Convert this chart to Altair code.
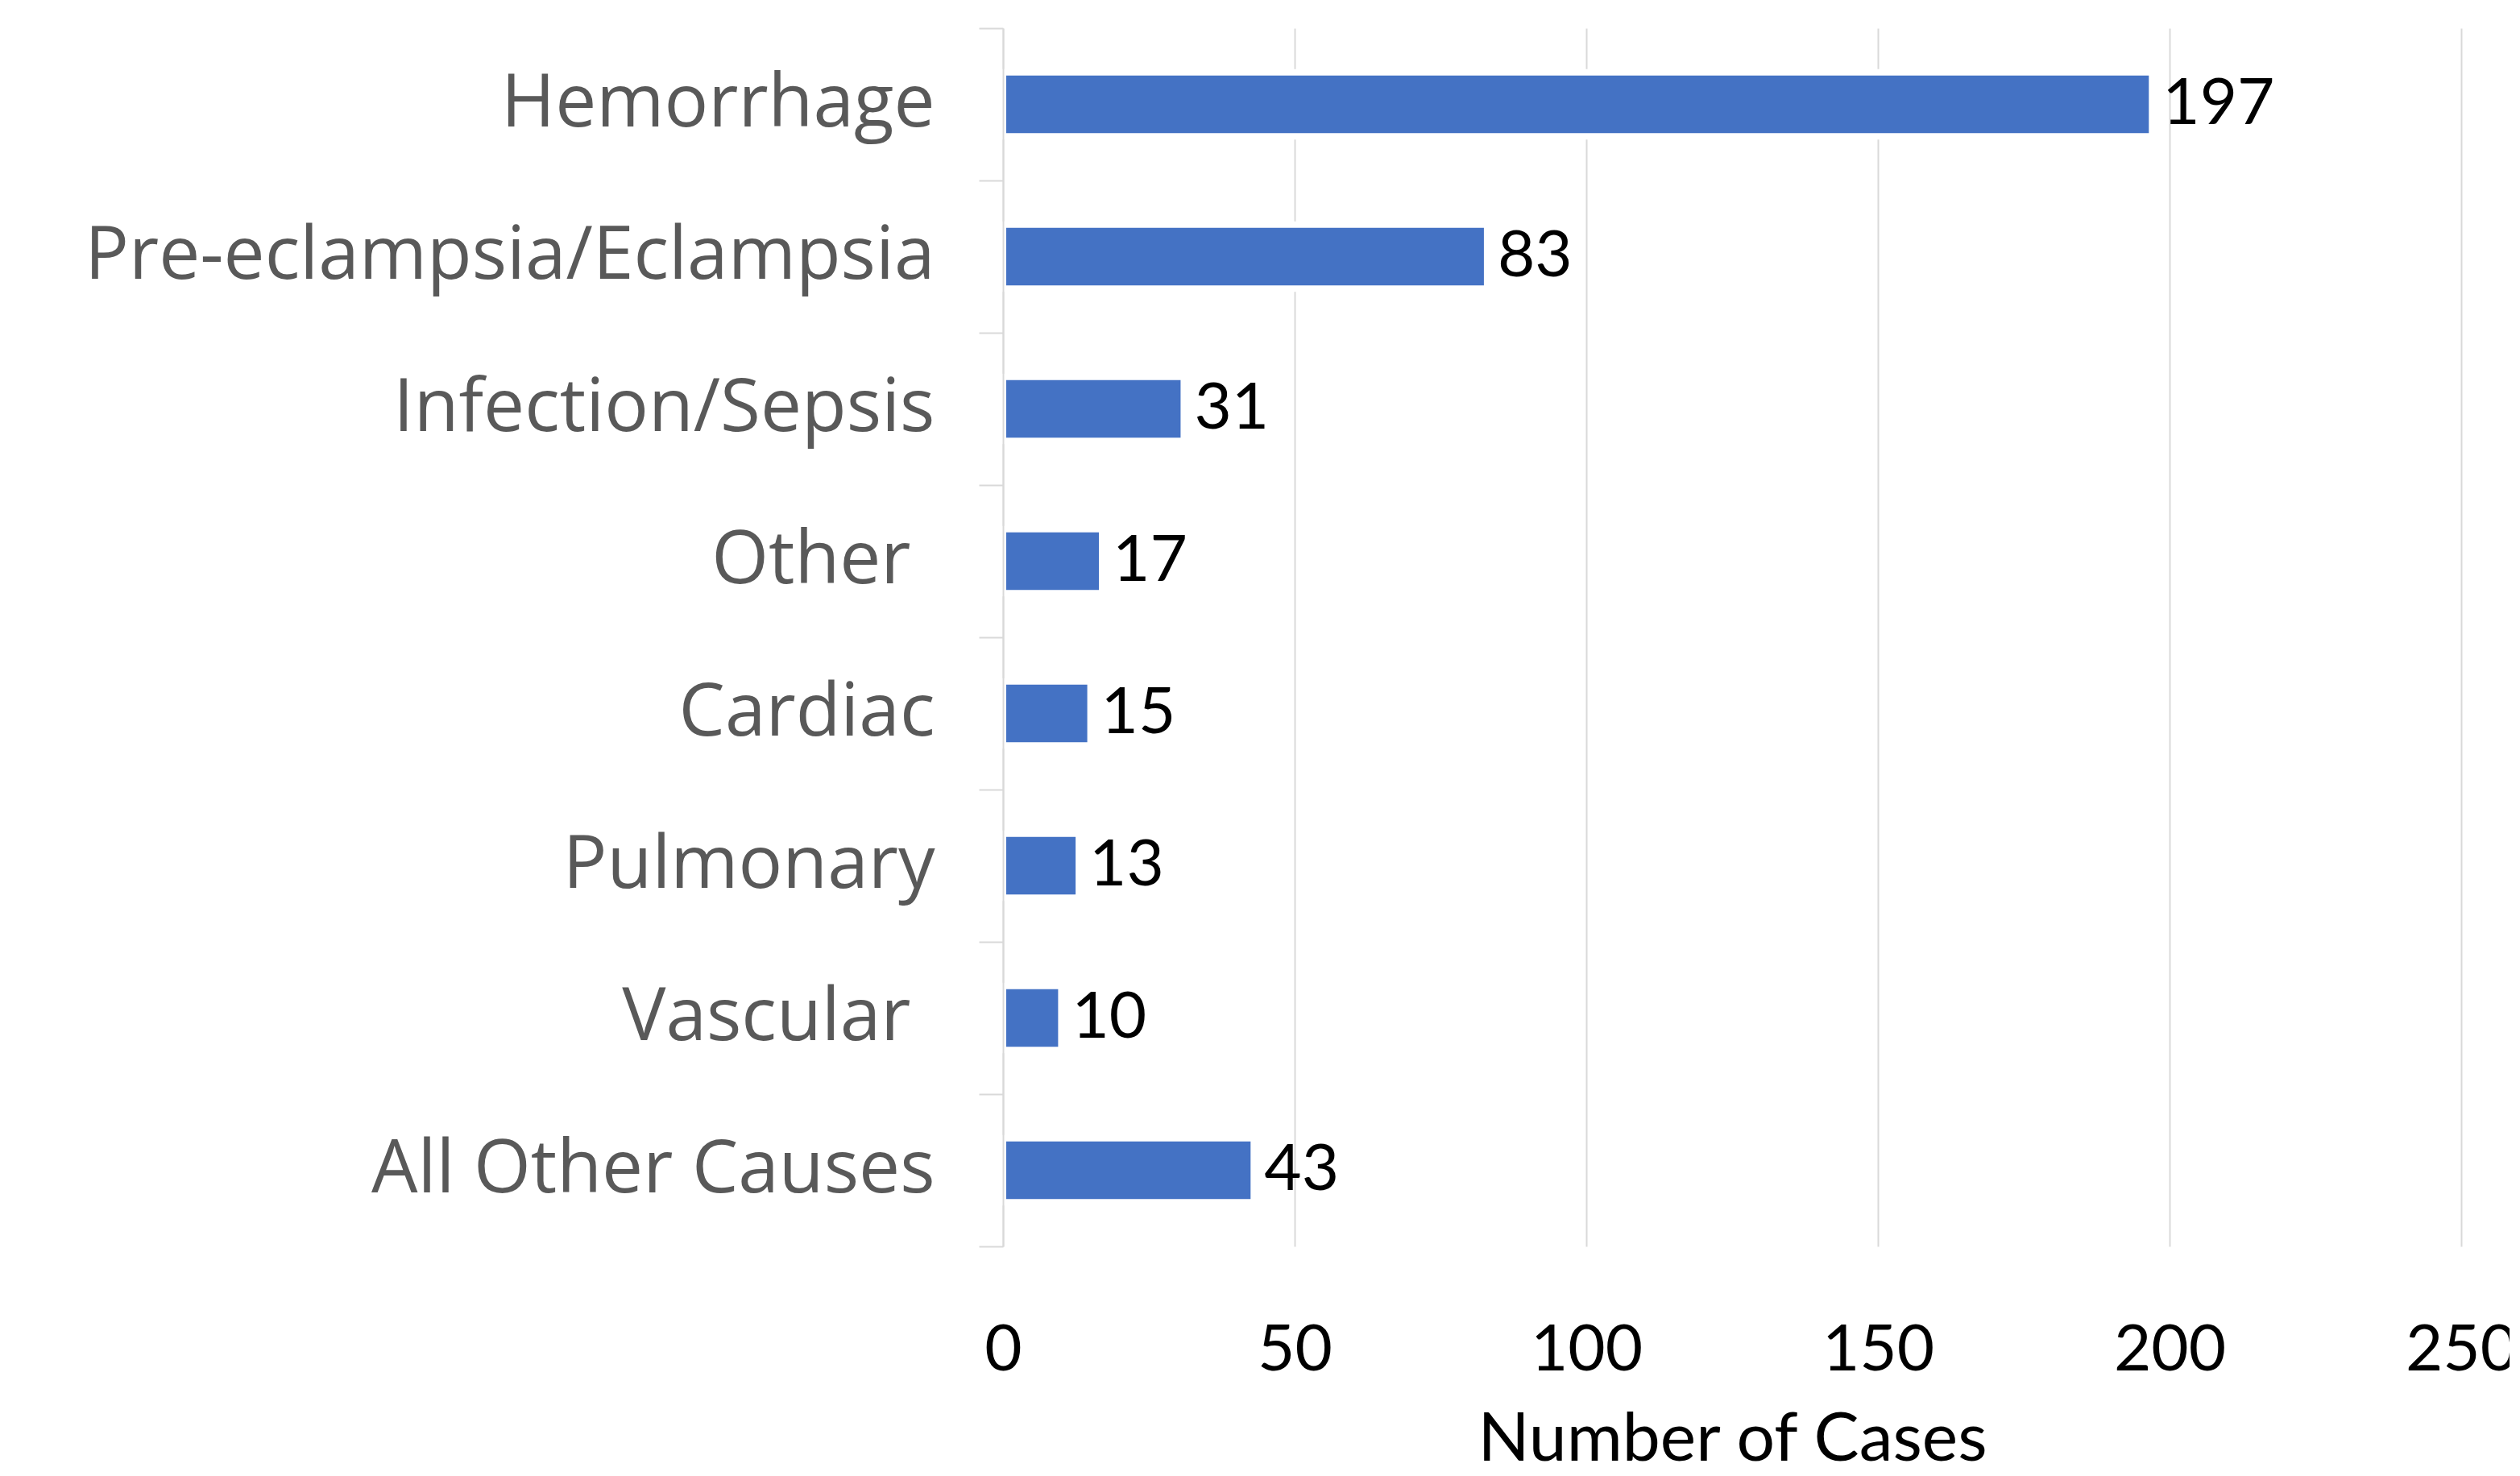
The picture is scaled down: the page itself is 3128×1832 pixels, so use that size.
import altair as alt
import pandas as pd

categories = ["Hemorrhage", "Pre-eclampsia/Eclampsia", "Infection/Sepsis", "Other",
              "Cardiac", "Pulmonary", "Vascular", "All Other Causes"]
cases = [197, 83, 31, 17, 15, 13, 10, 43]
x_ticks = [0, 50, 100, 150, 200, 250]

df = pd.DataFrame({"cause": categories, "cases": cases})

y_enc = alt.Y("cause:N", sort=categories, title=None,
              scale=alt.Scale(paddingInner=0, paddingOuter=0),
              axis=alt.Axis(labelFont="Open Sans", labelFontSize=91, labelColor="#595959",
                            labelPadding={"condition": {"test": "datum.value == 'Other' || datum.value == 'Vascular'",
                                                        "value": 85},
                                          "value": 55},
                            labelLimit=3000, tickSize=30, tickColor="#d9d9d9",
                            tickWidth=2, tickBand="extent", domainColor="#d9d9d9", domainWidth=2,
                            grid=False, zindex=1))
x_enc = alt.X("cases:Q", title="Number of Cases",
              scale=alt.Scale(domain=[0, 250], nice=False),
              axis=alt.Axis(values=x_ticks, labelFont="Lato", labelFontSize=80, labelColor="#000000",
                            labelPadding=90, labelFlush=False, ticks=False, domain=False,
                            grid=True, gridColor="#d9d9d9", gridWidth=2,
                            titleFont="Lato", titleFontSize=84, titleFontWeight="normal",
                            titleColor="#000000", titlePadding=30))

bars = alt.Chart(df).mark_bar(color="#4472C4", stroke="#ffffff", strokeWidth=8,
                              height={"band": 0.42}).encode(x=x_enc, y=y_enc)

labels = alt.Chart(df).mark_text(align="left", baseline="middle", dx=13, font="Lato",
                                 fontSize=80, color="#000000").encode(
    x=alt.X("cases:Q"), y=alt.Y("cause:N", sort=categories), text=alt.Text("cases:Q"))

chart = alt.layer(bars, labels).properties(
    width=1810, height=1512,
    background="white",
    autosize=alt.AutoSizeParams(type="none"),
    padding={"left": 1237, "top": 27, "right": 60, "bottom": 270},
).configure_view(stroke="transparent", strokeWidth=0)

chart.save("out.html", embed_options={"renderer": "svg", "actions": False})
